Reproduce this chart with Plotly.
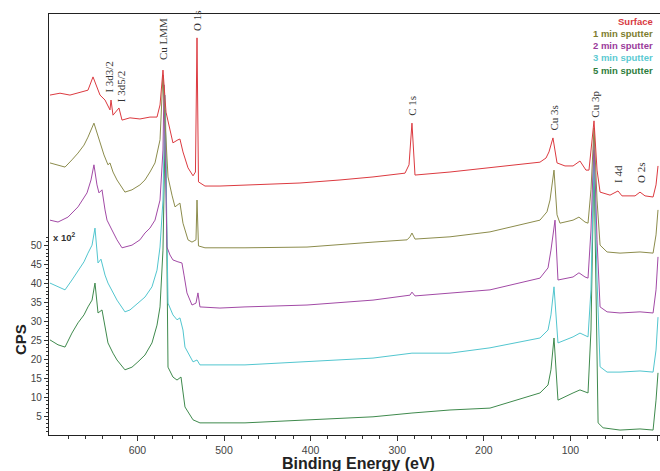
import plotly.graph_objects as go

# ---- data (binding energy in eV, intensity in units of 10^2 CPS, offset spectra) ----
energy_surface = [701.0, 689.4, 677.9, 666.3, 657.1, 651.3, 643.2, 637.4, 631.7, 630.5, 628.2, 621.3, 617.8,
                  608.6, 597.1, 585.5, 577.4, 573.9, 570.5, 567.0, 562.4, 559.0, 553.2, 550.9, 547.4, 541.6,
                  535.8, 533.0, 531.2, 529.5, 522.0, 504.7, 470.0, 412.3, 366.1, 328.0, 291.0, 286.4, 283.0,
                  279.5, 239.1, 192.9, 135.2, 128.2, 124.8, 120.2, 115.5, 106.3, 97.0, 89.0, 82.1, 78.6, 76.3,
                  72.8, 69.3, 65.8, 54.3, 45.1, 40.5, 25.4, 19.7, 13.9, 4.6, 1.2, -1.1]
cps_surface = [89.7, 90.2, 89.7, 90.5, 91.0, 94.5, 89.7, 88.4, 85.8, 88.4, 84.4, 86.3, 83.1,
               83.7, 83.4, 83.9, 83.9, 87.1, 96.3, 85.2, 80.5, 77.1, 77.9, 78.1, 74.7, 70.5,
               68.4, 69.4, 104.8, 66.8, 65.7, 65.7, 66.0, 66.5, 67.3, 68.1, 69.1, 71.3, 82.3,
               68.6, 69.4, 70.5, 72.0, 73.1, 74.7, 78.4, 71.8, 71.0, 71.0, 72.3, 69.9, 69.9, 75.2,
               82.9, 69.9, 64.1, 63.3, 64.4, 63.1, 63.1, 64.1, 63.1, 62.8, 66.0, 71.0]

energy_1min = [701.0, 691.7, 683.6, 675.6, 668.6, 661.7, 657.1, 650.2, 646.7, 643.2, 638.6, 634.0, 631.7,
               628.2, 623.6, 614.4, 606.3, 597.1, 591.3, 585.5, 579.7, 573.9, 570.5, 568.2, 564.7, 560.1,
               556.6, 550.9, 547.4, 541.6, 537.0, 532.4, 531.2, 529.5, 522.0, 475.8, 404.2, 328.0, 288.7,
               285.3, 283.0, 279.5, 239.1, 192.9, 135.2, 127.1, 123.6, 119.0, 115.5, 112.1, 97.0, 90.2,
               83.2, 79.7, 76.3, 72.8, 69.3, 65.8, 57.7, 42.8, 19.7, 4.6, 1.2, -1.1]
cps_1min = [71.8, 71.3, 70.7, 72.6, 74.4, 76.5, 78.6, 82.3, 79.7, 77.3, 73.9, 71.3, 71.8,
            69.4, 67.3, 64.1, 64.7, 66.0, 67.3, 69.4, 71.8, 77.9, 95.0, 83.1, 68.1, 63.3,
            60.2, 61.2, 55.9, 51.5, 50.9, 51.5, 62.0, 49.9, 49.4, 49.4, 49.6, 50.9, 51.5,
            52.3, 53.3, 51.7, 52.3, 53.6, 56.7, 58.9, 62.0, 69.9, 58.1, 55.9, 56.7, 57.5,
            56.2, 55.9, 64.7, 81.0, 62.0, 50.1, 48.3, 48.0, 48.3, 48.0, 52.8, 59.4]

energy_2min = [701.0, 691.7, 680.2, 668.6, 658.2, 653.6, 650.2, 646.7, 644.4, 640.9, 637.4, 635.1, 629.4,
               623.6, 617.8, 606.3, 597.1, 591.3, 585.5, 579.7, 573.9, 570.5, 569.3, 565.9, 562.4, 559.0,
               553.2, 548.6, 546.2, 542.8, 537.0, 532.4, 530.1, 527.8, 504.7, 475.8, 404.2, 328.0, 285.3,
               283.0, 279.5, 239.1, 192.9, 135.2, 125.9, 122.5, 117.8, 114.4, 97.0, 90.2, 83.2, 79.7,
               76.3, 72.8, 69.3, 65.8, 57.7, 42.8, 19.7, 4.6, 1.2, -1.1]
cps_2min = [56.7, 56.2, 57.5, 60.2, 63.9, 67.3, 71.3, 66.0, 63.9, 64.7, 59.4, 56.7, 54.1,
            51.5, 49.4, 50.1, 51.5, 53.3, 54.6, 56.7, 62.0, 75.2, 92.4, 49.6, 47.5, 46.2,
            45.7, 45.4, 42.2, 37.5, 34.3, 34.8, 37.5, 33.8, 33.5, 33.8, 34.3, 35.6, 36.9,
            37.7, 36.7, 37.5, 38.3, 41.4, 44.1, 48.8, 56.7, 40.9, 41.7, 42.8, 41.7, 41.4,
            54.1, 77.9, 51.5, 33.8, 32.5, 32.2, 32.5, 32.2, 38.3, 47.0]

energy_3min = [701.0, 691.7, 683.6, 675.6, 668.6, 661.7, 657.1, 652.4, 649.0, 646.7, 645.5, 642.1, 637.4,
               634.0, 628.2, 623.6, 614.4, 608.6, 599.4, 591.3, 583.2, 577.4, 573.9, 570.5, 568.2, 565.9,
               564.7, 559.0, 554.3, 550.9, 547.4, 545.1, 535.8, 531.2, 527.8, 475.8, 404.2, 328.0, 283.0,
               239.1, 192.9, 135.2, 125.9, 122.5, 119.0, 114.4, 97.0, 89.0, 79.7, 76.3, 72.8, 69.3,
               65.8, 57.7, 42.8, 19.7, 4.6, 1.2, -1.1]
cps_3min = [40.1, 39.1, 38.3, 40.9, 43.5, 45.7, 48.0, 50.1, 54.6, 48.8, 45.4, 46.4, 42.2,
            40.1, 37.7, 35.6, 32.5, 33.0, 34.8, 36.4, 39.1, 43.5, 49.6, 62.0, 89.7, 48.8,
            34.8, 31.7, 30.4, 30.9, 27.7, 23.2, 19.3, 19.8, 18.5, 18.5, 19.3, 20.3, 21.6,
            21.6, 23.0, 25.6, 27.7, 31.7, 39.1, 24.3, 25.9, 26.9, 25.9, 38.3, 75.2, 40.9,
            18.0, 16.6, 16.6, 16.9, 16.6, 22.4, 31.1]

energy_5min = [701.0, 691.7, 683.6, 675.6, 668.6, 661.7, 657.1, 652.4, 649.0, 646.7, 645.5, 640.9, 637.4,
               634.0, 628.2, 623.6, 614.4, 606.3, 599.4, 591.3, 583.2, 577.4, 573.9, 570.5, 567.6, 565.9,
               564.7, 559.0, 554.3, 549.7, 547.4, 545.1, 535.8, 527.8, 475.8, 404.2, 328.0, 283.0, 239.1,
               192.9, 135.2, 125.9, 122.5, 119.0, 114.4, 97.0, 89.0, 79.7, 76.3, 72.8, 70.5, 68.1,
               62.3, 42.8, 19.7, 4.6, 1.2, -1.1]
cps_5min = [25.1, 23.8, 23.2, 26.9, 29.6, 31.7, 33.8, 35.6, 40.1, 35.6, 32.2, 33.0, 28.2,
            24.3, 21.6, 19.8, 17.2, 17.9, 19.3, 21.1, 24.3, 29.0, 33.8, 48.8, 85.8, 35.6,
            17.9, 15.3, 14.5, 15.3, 10.6, 7.4, 4.0, 3.2, 3.2, 4.0, 4.8, 5.8, 6.6,
            7.1, 11.1, 13.2, 17.2, 25.6, 9.2, 11.1, 11.9, 11.1, 27.7, 72.6, 35.6, 3.2,
            1.9, 1.3, 1.6, 1.3, 9.2, 16.4]

series_names = ["Surface", "1 min sputter", "2 min sputter", "3 min sputter", "5 min sputter"]

peak_labels = ["I 3d3/2", "I 3d5/2", "Cu LMM", "O 1s", "C 1s", "Cu 3s", "Cu 3p", "I 4d", "O 2s"]
peak_label_energy = [632.8, 619.0, 570.5, 531.2, 283.0, 119.0, 71.6, 45.1, 18.5]
peak_label_base = [89.7, 87.4, 98.4, 106.1, 83.7, 79.7, 83.1, 66.0, 66.0]

x_tick_vals = [0, 100, 200, 300, 400, 500, 600]
y_tick_vals = [5, 10, 15, 20, 25, 30, 35, 40, 45, 50]

# ---- styling ----
line_colors = ["#dc3a40", "#8c8c4c", "#a24aa6", "#52c6cf", "#3f8a4d"]
text_colors = ["#d8393f", "#7d7d2e", "#9b3b9b", "#5ccad2", "#2e7d3c"]

energies = [energy_surface, energy_1min, energy_2min, energy_3min, energy_5min]
counts = [cps_surface, cps_1min, cps_2min, cps_3min, cps_5min]

fig = go.Figure()
for i in reversed(range(5)):
    fig.add_trace(go.Scatter(x=energies[i], y=counts[i], mode="lines", name=series_names[i],
                             line=dict(color=line_colors[i], width=1), showlegend=False,
                             hoverinfo="skip"))

W, H = 660, 471
L, R, T, B = 49, 0, 14, 36
ph = H - T - B

def py(pix):
    return (H - B - pix) / ph

# legend as right-aligned colored text
legend_y_pix = [22, 33, 45, 57, 70]
for i in range(5):
    fig.add_annotation(xref="paper", yref="paper", x=0.992, y=py(legend_y_pix[i]),
                       xanchor="right", yanchor="middle", showarrow=False,
                       text="<b>%s</b>" % series_names[i],
                       font=dict(family="Liberation Sans", size=9.5, color=text_colors[i]))

for lab, e, b in zip(peak_labels, peak_label_energy, peak_label_base):
    fig.add_annotation(x=e, y=b, xref="x", yref="y", text=lab, textangle=-90,
                       showarrow=False, xanchor="center", yanchor="bottom",
                       font=dict(family="Liberation Serif", size=11, color="#333333"))

fig.add_annotation(x=700, y=52.2, xref="x", yref="y", text="<b>x 10<sup>2</sup></b>",
                   showarrow=False, xanchor="left", yanchor="middle",
                   font=dict(family="Liberation Sans", size=9.5, color="#333333"))

fig.add_annotation(xref="paper", yref="paper", x=(20 - L) / (W - L - R), y=py(340),
                   text="<b>CPS</b>", textangle=-90, showarrow=False,
                   xanchor="center", yanchor="middle",
                   font=dict(family="Liberation Sans", size=15, color="#222222"))

fig.add_annotation(xref="paper", yref="paper", x=(358 - L) / (W - L - R), y=py(463.5),
                   text="<b>Binding Energy (eV)</b>", showarrow=False,
                   xanchor="center", yanchor="middle",
                   font=dict(family="Liberation Sans", size=16, color="#222222"))

fig.update_layout(
    width=W, height=H,
    margin=dict(l=L, r=R, t=T, b=B, pad=0),
    plot_bgcolor="white", paper_bgcolor="white",
    xaxis=dict(range=[702.1, -3.4], showgrid=False, zeroline=False,
               showline=True, linecolor="#222222", linewidth=1.2, mirror=True,
               tickmode="array", tickvals=x_tick_vals, ticks="outside", ticklen=5,
               tickcolor="#333333", tickwidth=1,
               tickfont=dict(family="Liberation Sans", size=10.5, color="#444444"),
               minor=dict(tickmode="array", tickvals=[v for v in range(20, 701, 20) if v % 100],
                          ticks="outside", ticklen=3, tickcolor="#333333", tickwidth=1)),
    yaxis=dict(range=[0, 111.1], showgrid=False, zeroline=False,
               showline=True, linecolor="#222222", linewidth=1.2, mirror=False,
               tickmode="array", tickvals=y_tick_vals, ticks="outside", ticklen=4,
               tickcolor="#333333", tickwidth=1,
               tickfont=dict(family="Liberation Sans", size=10, color="#444444"),
               minor=dict(tickmode="array", tickvals=[v for v in range(1, 53) if v % 5],
                          ticks="outside", ticklen=2, tickcolor="#333333", tickwidth=1)),
)

fig.write_html("out.html", config={"displayModeBar": False},
               post_script="document.body.style.margin='0';document.body.style.overflow='hidden';")
